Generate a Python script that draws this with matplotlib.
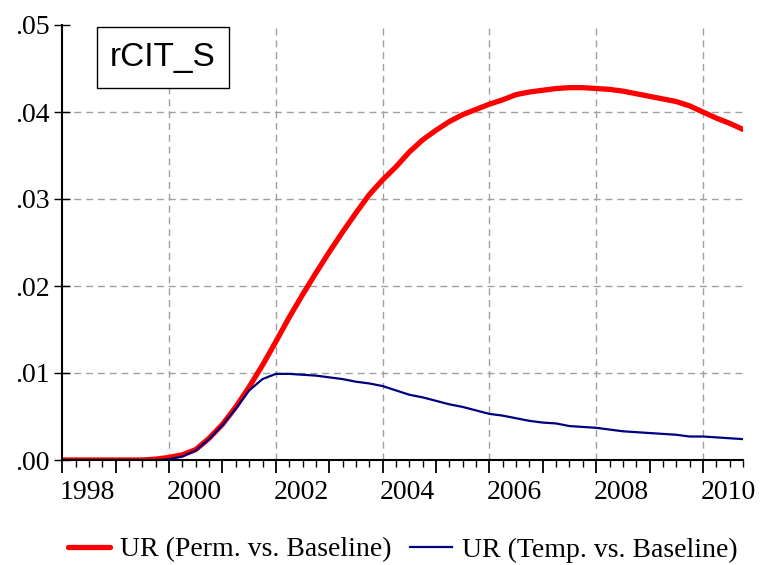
import matplotlib
matplotlib.use("Agg")
import matplotlib.pyplot as plt
import numpy as np
from matplotlib.patches import Rectangle
from matplotlib.lines import Line2D

start_year = 1998.0
perm = [0, 0, 0, 0,
        0, 0, 0, 0.0001,
        0.0003, 0.0006, 0.0012, 0.0025,
        0.0041, 0.0061, 0.0084, 0.0109,
        0.0136, 0.0164, 0.0190, 0.0215,
        0.0239, 0.0262, 0.0284, 0.0305,
        0.0322, 0.0337, 0.0354, 0.0368,
        0.0379, 0.0389, 0.0397, 0.0403,
        0.0409, 0.0414, 0.0420, 0.0423,
        0.0425, 0.0427, 0.0428, 0.0428,
        0.0427, 0.0426, 0.0424, 0.0421,
        0.0418, 0.0415, 0.0412, 0.0407,
        0.0400, 0.0393, 0.0387, 0.0380]
temp = [0, 0, 0, 0,
        0, 0, 0, 0,
        0.0001, 0.0004, 0.0011, 0.0024,
        0.0040, 0.0059, 0.0080, 0.0093,
        0.0099, 0.0099, 0.0098, 0.0097,
        0.0095, 0.0093, 0.0090, 0.0088,
        0.0085, 0.0080, 0.0075, 0.0072,
        0.0068, 0.0064, 0.0061, 0.0057,
        0.0053, 0.0051, 0.0048, 0.0045,
        0.0043, 0.0042, 0.0039, 0.0038,
        0.0037, 0.0035, 0.0033, 0.0032,
        0.0031, 0.0030, 0.0029, 0.0027,
        0.0027, 0.0026, 0.0025, 0.0024]
year_labels = [1998, 2000, 2002, 2004, 2006, 2008, 2010]
grid_years = [2000, 2002, 2004, 2006, 2008, 2010]
y_ticks = [0.00, 0.01, 0.02, 0.03, 0.04, 0.05]
title = "rCIT_S"
labels = ["UR (Perm. vs. Baseline)", "UR (Temp. vs. Baseline)"]

x = start_year + np.arange(len(perm)) / 4.0

serif = ["Liberation Serif", "DejaVu Serif"]
fig = plt.figure(figsize=(7.6, 5.65), dpi=100)
ax = fig.add_axes([62.3 / 760, 1 - 460 / 565, (743 - 62.3) / 760, (460 - 25) / 565])

grid_kw = dict(color="#a0a0a0", lw=1.0, ls=(0, (5, 3.5)), zorder=1)
for gy in grid_years:
    ax.axvline(gy, **grid_kw)
for yv in y_ticks[1:-1]:
    ax.axhline(yv, **grid_kw)

ax.plot(x, perm, color="#ff0000", lw=3.8, solid_capstyle="round", zorder=3)
ax.plot(x, temp, color="#000080", lw=1.6, zorder=4)

ax.set_xlim(start_year, x[-1])
ax.set_ylim(0, 0.05)

for s in ["top", "right"]:
    ax.spines[s].set_visible(False)
for s in ["left", "bottom"]:
    ax.spines[s].set_linewidth(1.5)
    ax.spines[s].set_zorder(5)

ax.set_yticks(y_ticks)
ax.set_yticklabels([f"{v:.2f}"[1:] for v in y_ticks], fontfamily=serif, fontsize=20)
ax.tick_params(axis="y", direction="inout", length=12, width=1.0, pad=3)

major_years = np.arange(1998, 2011)
ax.set_xticks(major_years)
ax.set_xticklabels([])
ax.set_xticks(np.arange(start_year, x[-1] + 0.01, 0.25), minor=True)
ax.tick_params(axis="x", which="major", direction="out", length=9, width=1.3)
ax.tick_params(axis="x", which="minor", direction="out", length=5, width=1.0)

for yr in year_labels:
    ax.text(yr + 0.47, -0.047, str(yr), transform=ax.get_xaxis_transform(),
            ha="center", va="top", fontfamily=serif, fontsize=20)

# title box
x0 = (97 - 62.3) / 680.7
x1 = (229 - 62.3) / 680.7
y0 = (460 - 88) / 435
y1 = (460 - 27) / 435
ax.add_patch(Rectangle((x0, y0), x1 - x0, y1 - y0, transform=ax.transAxes,
                       fill=True, facecolor="white", edgecolor="black", lw=1.0, zorder=6))
ax.text((x0 + x1) / 2, (y0 + y1) / 2, title, transform=ax.transAxes, ha="center",
        va="center", fontfamily=["Liberation Sans", "DejaVu Sans"], fontsize=24, zorder=7)

handles = [Line2D([], [], color="#ff0000", lw=3.8, solid_capstyle="round"),
           Line2D([], [], color="#000080", lw=1.6)]
fig.legend(handles, labels, loc="lower center", bbox_to_anchor=(0.53, -0.04), ncol=2,
           frameon=False, prop={"family": serif, "size": 20}, handlelength=1.5,
           handletextpad=0.35, columnspacing=0.7)

fig.savefig("out.png", dpi=100)
